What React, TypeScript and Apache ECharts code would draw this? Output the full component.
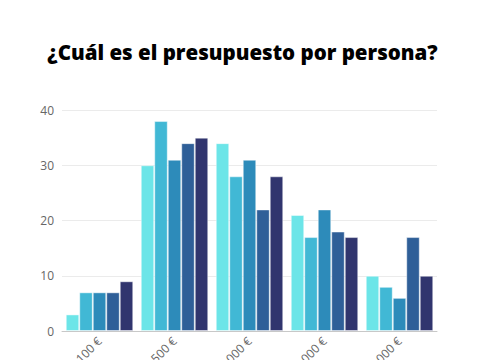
import React, { useEffect, useRef } from "react";
import * as echarts from "echarts";

const categories = ["Menos de 100 €", "100 - 500 €", "500 - 1.000 €", "1.000 - 2.000 €", "Más de 2.000 €"];
const seriesNames = ["Grupo 1", "Grupo 2", "Grupo 3", "Grupo 4", "Grupo 5"];
const s1 = [3, 30, 34, 21, 10];
const s2 = [7, 38, 28, 17, 8];
const s3 = [7, 31, 31, 22, 6];
const s4 = [7, 34, 22, 18, 17];
const s5 = [9, 35, 28, 17, 10];
const colors = ["#6ce5e8", "#41b8d5", "#2d8bba", "#2f5f98", "#31356e"];

export default function App() {
  const ref = useRef<HTMLDivElement>(null);
  useEffect(() => {
    if (!ref.current) return;
    const chart = echarts.init(ref.current, null, { renderer: "svg" });
    const data = [s1, s2, s3, s4, s5];
    chart.setOption({
      animation: false,
      backgroundColor: "#ffffff",
      title: {
        text: "¿Cuál es el presupuesto por persona?",
        left: "center",
        top: 36,
        textStyle: {
          fontFamily: "Open Sans",
          fontWeight: 800,
          fontSize: 20.5,
          color: "#000000",
        },
      },
      grid: {
        left: 62,
        right: 48,
        top: 110,
        bottom: 29,
        containLabel: false,
        outerBoundsMode: "none",
      },
      xAxis: {
        type: "category",
        data: categories,
        axisTick: { show: false },
        axisLine: { lineStyle: { color: "#c8c8c8", width: 1 } },
        axisLabel: {
          rotate: 45,
          interval: 0,
          color: "#666666",
          fontFamily: "Open Sans",
          fontSize: 12,
          margin: 8,
        },
      },
      yAxis: {
        type: "value",
        min: 0,
        max: 40,
        interval: 10,
        axisLine: { show: false },
        axisTick: { show: false },
        splitLine: { lineStyle: { color: "#ebebeb", width: 1 } },
        axisLabel: {
          color: "#666666",
          fontFamily: "Open Sans",
          fontSize: 12,
          margin: 8,
        },
      },
      series: data.map((d, i) => ({
        name: seriesNames[i],
        type: "bar",
        data: d,
        barGap: "0%",
        barCategoryGap: "10%",
        itemStyle: {
          color: colors[i],
          borderColor: "rgba(255,255,255,0.45)",
          borderWidth: 1,
        },
      })),
    });
    return () => chart.dispose();
  }, []);
  return (
    <div
      ref={ref}
      style={{ position: "fixed", left: 0, top: 0, width: 485, height: 360 }}
    />
  );
}
